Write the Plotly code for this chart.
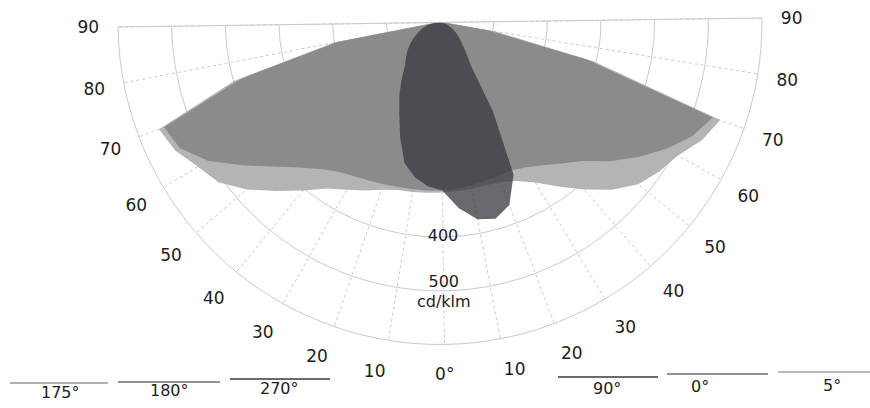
import plotly.graph_objects as go

# Luminous intensity (cd/klm) per C-plane, sampled at vertical angle gamma (deg)
GAMMA = [0, 5, 10, 15, 20, 25, 30, 35, 40, 45, 50, 55, 60, 65, 70, 75, 80, 85, 90]

C0 = [313, 311, 309, 307, 306, 306, 314, 328, 347, 370, 409, 446, 483, 516, 538, 282, 90, 12, 0]
C5 = [317, 316, 315, 315, 318, 328, 347, 377, 411, 447, 477, 494, 508, 535, 553, 295, 105, 15, 0]
C90 = [313, 348, 373, 380, 364, 315, 193, 98, 75, 58, 47, 38, 30, 22, 16, 12, 8, 4, 0]
C175 = [317, 318, 320, 322, 330, 343, 357, 374, 404, 438, 476, 509, 525, 548, 560, 398, 200, 18, 0]
C180 = [313, 314, 315, 316, 319, 323, 328, 336, 352, 377, 411, 455, 503, 538, 550, 385, 195, 12, 0]
C270 = [313, 306, 292, 270, 226, 185, 155, 127, 103, 91, 80, 69, 58, 47, 38, 30, 21, 12, 0]

# Angular tick labels: left half runs 90..10, right half 0..90
TICK_ANGLES = [10, 20, 30, 40, 50, 60, 70, 80, 90]
RADIAL_LABELS = ["400", "500", "cd/klm"]
RADIAL_LABEL_R = [400, 500, 507]

# Legend captions, left and right groups
LEGEND_LEFT = ["175°", "180°", "270°"]
LEGEND_RIGHT = ["90°", "0°", "5°"]

LIGHT = "#b4b4b4"
MEDIUM = "#8b8b8b"
DARK = "rgba(58,56,62,0.76)"
GRID = "#c9c9d3"
TEXT = "#1c1c1c"
FONT = "DejaVu Sans"

W, H = 870, 408
TILT = 0.8  # the diagram sits slightly rotated on the page
NADIR = 270 + TILT  # screen angle of the downward direction


def to_theta(g, side):
    """Screen angle (deg, counterclockwise from east) of vertical angle g on either half."""
    return round(NADIR - g if side == "left" else NADIR + g, 6)


def outline(left, right):
    """Closed outline: left plane from 90 down to nadir, right plane back up to 90."""
    theta = [to_theta(g, "left") for g in reversed(GAMMA)] + [to_theta(g, "right") for g in GAMMA]
    r = list(reversed(left)) + list(right)
    return theta, r


fig = go.Figure()

for left, right, color in [(C175, C5, LIGHT), (C180, C0, MEDIUM), (C270, C90, DARK)]:
    th, rr = outline(left, right)
    fig.add_trace(go.Scatterpolar(
        r=rr, theta=th, mode="lines", fill="toself",
        fillcolor=color, line=dict(width=0, color=color),
        hoverinfo="skip", showlegend=False,
    ))

fig.add_trace(go.Scatterpolar(
    r=RADIAL_LABEL_R, theta=[to_theta(0, "right")] * 3, mode="text", text=RADIAL_LABELS,
    textposition=["middle center", "top center", "bottom center"],
    textfont=dict(family=FONT, size=16, color=TEXT),
    hoverinfo="skip", showlegend=False,
))

tickvals = ([to_theta(a, "left") for a in reversed(TICK_ANGLES)] + [to_theta(0, "right")]
            + [to_theta(a, "right") for a in TICK_ANGLES])
ticktext = [str(a) for a in reversed(TICK_ANGLES)] + ["0°"] + [str(a) for a in TICK_ANGLES]

# polar frame: centre near (440, 22) px, radius 322 px
cx, R = 440, 322
top_px, bottom_px = 18, 344.5
fig.update_layout(
    width=W, height=H,
    margin=dict(l=0, r=0, t=0, b=0),
    paper_bgcolor="white",
    plot_bgcolor="white",
    showlegend=False,
    polar=dict(
        domain=dict(x=[(cx - R) / W, (cx + R) / W], y=[1 - bottom_px / H, 1 - top_px / H]),
        sector=[to_theta(90, "left"), to_theta(90, "right")],
        bgcolor="white",
        radialaxis=dict(
            range=[0, 600], tickvals=[100, 200, 300, 400, 500],
            showticklabels=False, ticks="", showline=False,
            gridcolor=GRID, gridwidth=1, layer="below traces",
        ),
        angularaxis=dict(
            rotation=0, direction="counterclockwise",
            tickmode="array", tickvals=tickvals, ticktext=ticktext,
            ticks="outside", ticklen=15, tickcolor="rgba(0,0,0,0)",
            showline=True, linecolor=GRID, linewidth=1,
            gridcolor=GRID, gridwidth=1, griddash="dot",
            tickfont=dict(family=FONT, size=17, color=TEXT),
            layer="below traces",
        ),
    ),
)

# Legend drawn as line samples with captions underneath
legend_pos = [
    # x0, x1, line y, label x, label y
    (10, 108, 383, 60, 392),
    (118, 220, 382, 169, 390),
    (230, 330, 379, 279, 388),
    (558, 658, 377, 607, 388),
    (667, 768, 374, 700, 386),
    (778, 870, 372, 832, 385),
]
legend_colors = ["#b0b0b0", "#929292", "#6a6a6a", "#6a6a6a", "#929292", "#b8b8b8"]
for name, color, (x0, x1, ly, tx, ty) in zip(LEGEND_LEFT + LEGEND_RIGHT, legend_colors, legend_pos):
    fig.add_shape(type="line", xref="paper", yref="paper",
                  x0=x0 / W, x1=x1 / W, y0=1 - ly / H, y1=1 - ly / H,
                  line=dict(color=color, width=2))
    fig.add_annotation(x=tx / W, y=1 - ty / H, xref="paper", yref="paper",
                       text=name, showarrow=False,
                       font=dict(family=FONT, size=16, color=TEXT),
                       xanchor="center", yanchor="middle")

fig.write_html("out.html")
